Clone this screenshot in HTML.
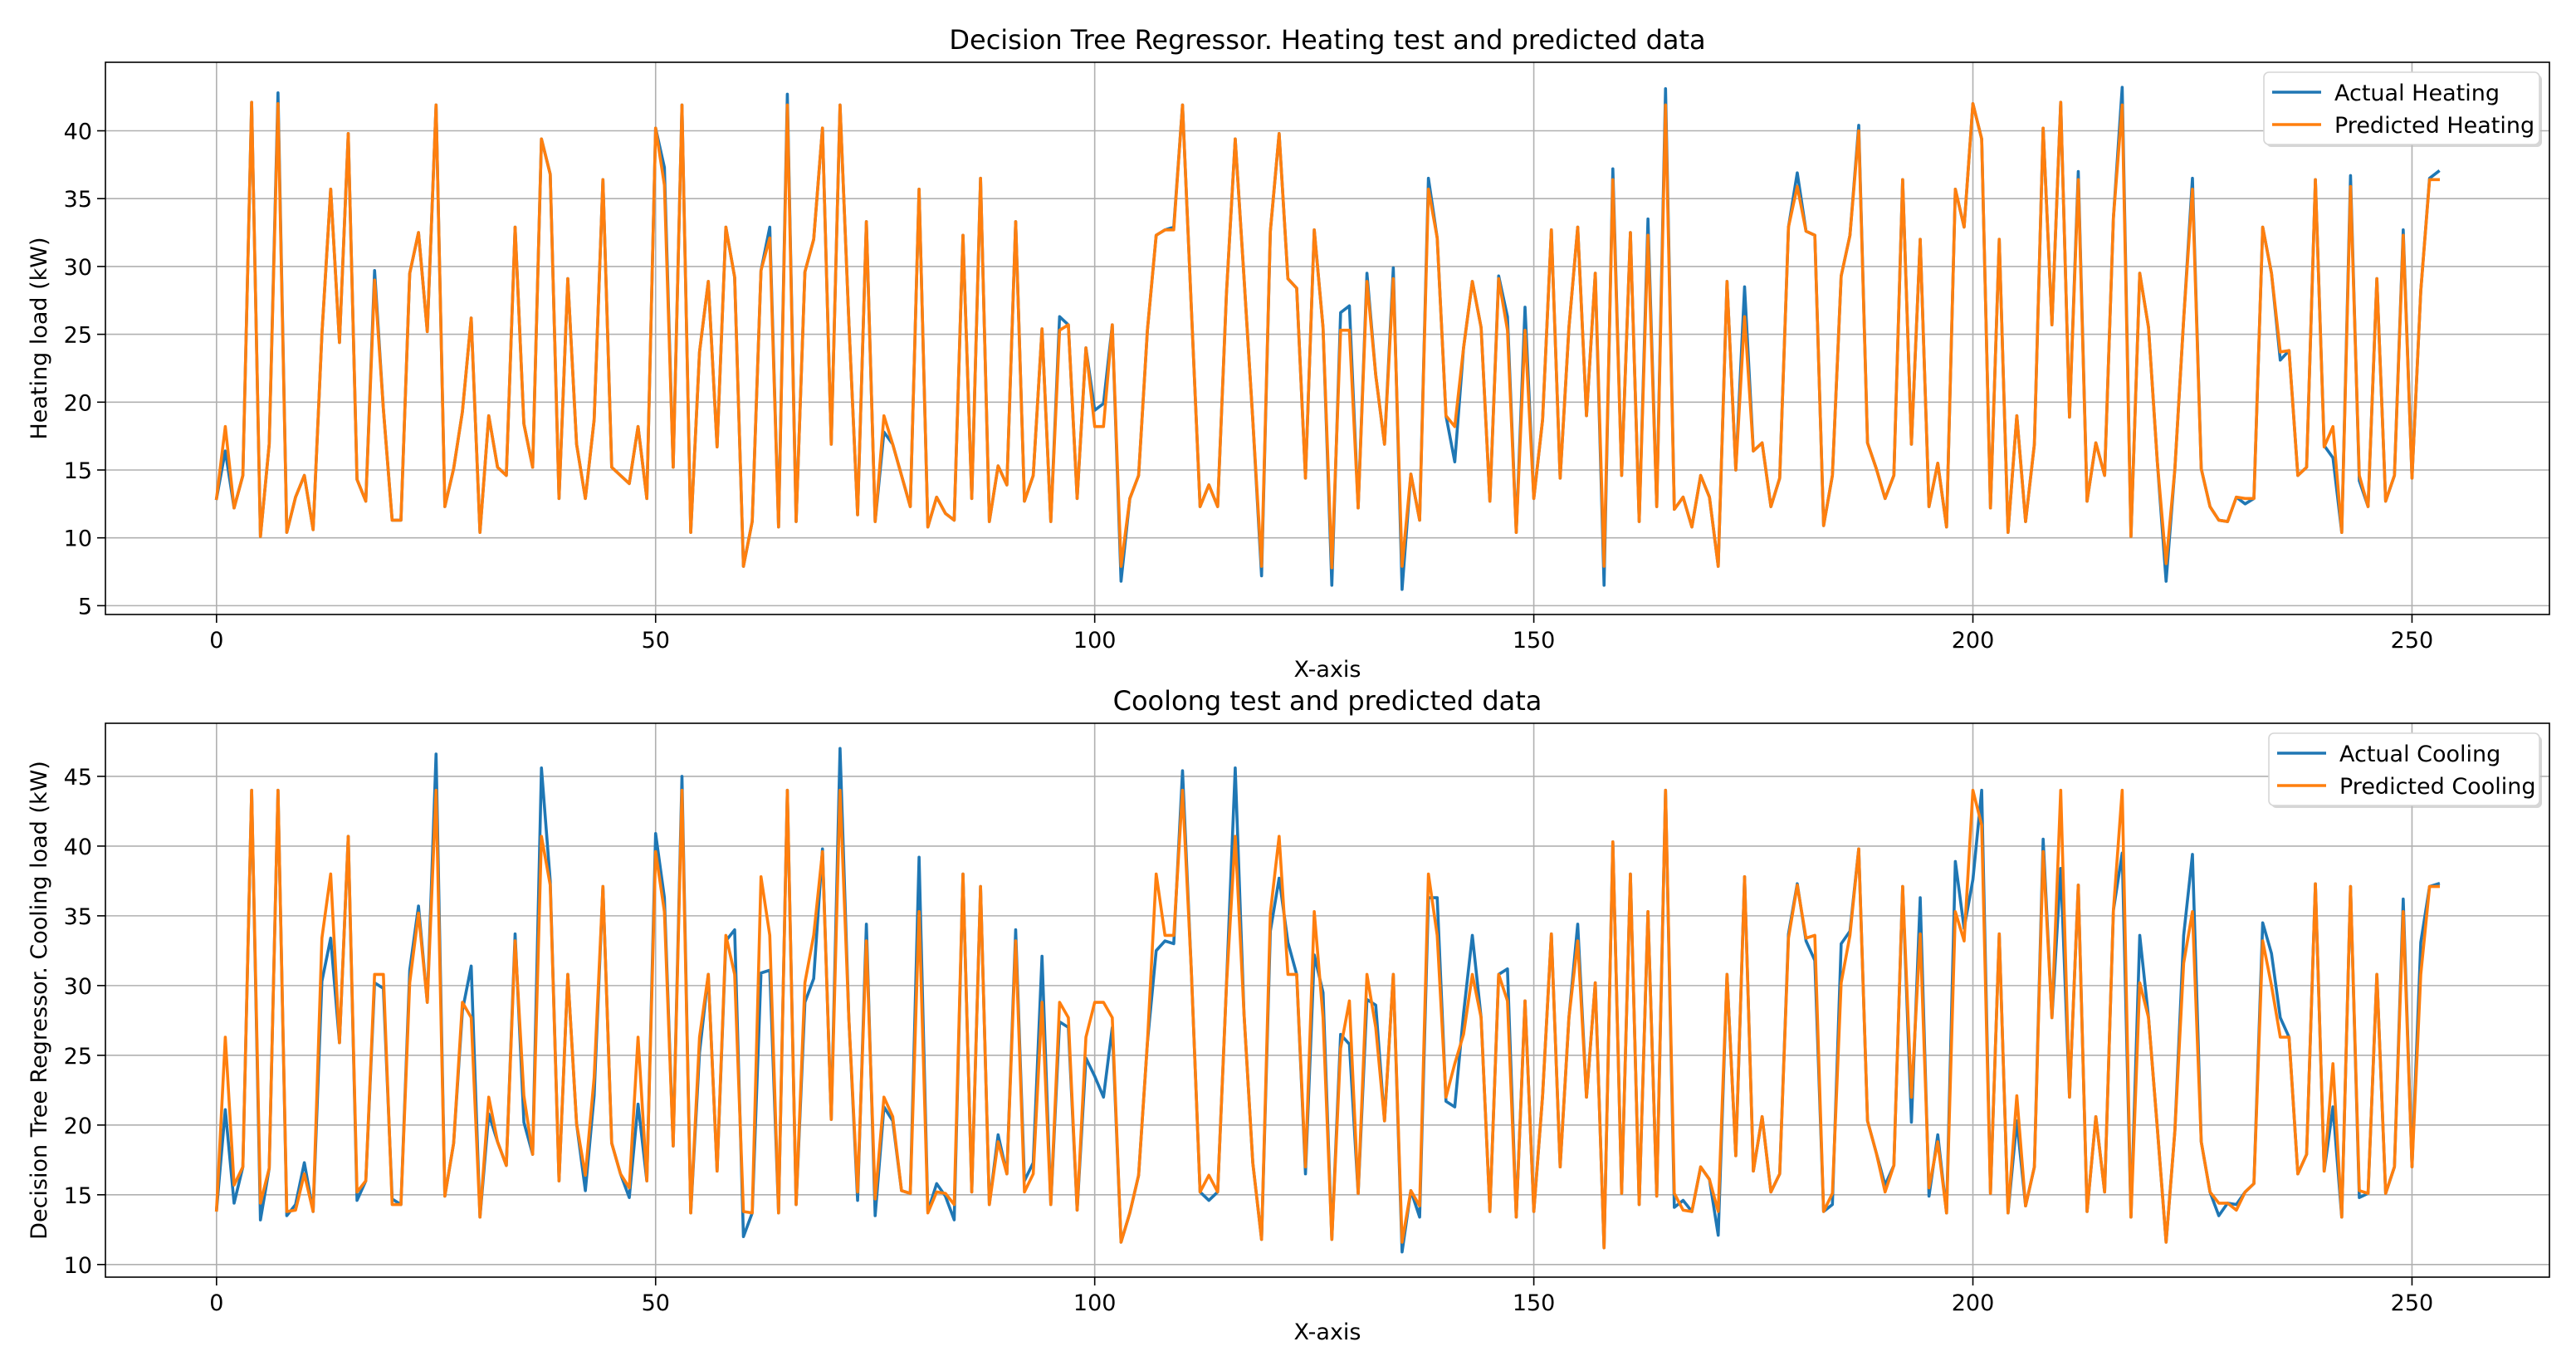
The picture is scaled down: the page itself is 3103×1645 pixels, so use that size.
<!DOCTYPE html>
<html><head><meta charset="utf-8">
<style>
html,body{margin:0;padding:0;background:#fff;}
svg{display:block;font-family:"DejaVu Sans","Liberation Sans",sans-serif;}
</style></head>
<body>
<svg id="fig" width="3103" height="1645" viewBox="0 0 3103 1645" xmlns="http://www.w3.org/2000/svg">
<rect width="3103" height="1645" fill="#fff"/>
</svg>
<script>
const xTicks = [0, 50, 100, 150, 200, 250];
const heatYTicks = [5, 10, 15, 20, 25, 30, 35, 40];
const coolYTicks = [10, 15, 20, 25, 30, 35, 40, 45];
const actualHeating = [12.9,16.4,12.2,14.6,42.1,10.1,16.9,42.8,10.4,13,14.6,10.6,25,35.7,24.4,39.8,14.3,12.7,29.7,19.5,11.3,11.3,29.5,32.5,25.2,41.9,12.3,15.1,19.3,26.2,10.4,19,15.2,14.6,32.9,18.4,15.2,39.4,36.8,12.9,29.1,16.9,12.9,18.7,36.4,15.2,14.6,14,18.2,12.9,40.2,37.3,15.2,41.9,10.4,23.7,28.9,16.7,32.9,29.2,7.9,11.2,29.7,32.9,10.8,42.7,11.2,29.6,32,40.2,16.9,41.9,26,11.7,33.3,11.2,17.8,16.9,14.6,12.3,35.7,10.8,13,11.8,11.3,32.3,12.9,36.5,11.2,15.3,13.9,33.3,12.7,14.6,25.4,11.2,26.3,25.7,12.9,24,19.4,19.9,25.7,6.8,12.9,14.6,25.3,32.3,32.7,32.9,41.9,27,12.3,13.9,12.3,28,39.4,29.2,18.7,7.2,32.6,39.8,29.1,28.4,14.4,32.7,25.5,6.5,26.6,27.1,12.2,29.5,22,16.9,29.9,6.2,14.7,11.3,36.5,32.1,19,15.6,24,28.9,25.5,12.7,29.3,26.3,10.4,27,12.9,18.7,32.7,14.4,25.5,32.9,19,29.5,6.5,37.2,14.6,32.5,11.2,33.5,12.3,43.1,12.1,13,10.8,14.6,13,7.9,28.9,15,28.5,16.4,17,12.3,14.4,32.9,36.9,32.6,32.3,10.9,14.6,29.3,32.3,40.4,17,15.1,12.9,14.6,36.4,16.9,32,12.3,15.5,10.8,35.7,32.9,42,39.4,12.2,32,10.4,19,11.2,16.9,40.2,25.7,42.1,18.9,37,12.7,17,14.6,33.6,43.2,10.1,29.5,25.5,15.6,6.8,15.1,26.1,36.5,15.1,12.3,11.3,11.2,13,12.5,12.9,32.9,29.5,23.1,23.8,14.6,15.2,36.4,16.8,15.9,10.4,36.7,14.2,12.3,29.1,12.7,14.6,32.7,14.4,28.2,36.5,37];
const predictedHeating = [12.9,18.2,12.2,14.6,42.1,10.1,16.9,42,10.4,13,14.6,10.6,25,35.7,24.4,39.8,14.3,12.7,29,19.5,11.3,11.3,29.5,32.5,25.2,41.9,12.3,15.1,19.3,26.2,10.4,19,15.2,14.6,32.9,18.4,15.2,39.4,36.8,12.9,29.1,16.9,12.9,18.7,36.4,15.2,14.6,14,18.2,12.9,40.2,36,15.2,41.9,10.4,23.7,28.9,16.7,32.9,29.2,7.9,11.2,29.7,32.1,10.8,41.9,11.2,29.6,32,40.2,16.9,41.9,26,11.7,33.3,11.2,19,16.9,14.6,12.3,35.7,10.8,13,11.8,11.3,32.3,12.9,36.5,11.2,15.3,13.9,33.3,12.7,14.6,25.4,11.2,25.3,25.7,12.9,24,18.2,18.2,25.7,7.9,12.9,14.6,25.3,32.3,32.7,32.7,41.9,27,12.3,13.9,12.3,28,39.4,29.2,18.7,7.9,32.6,39.8,29.1,28.4,14.4,32.7,25.5,7.8,25.3,25.3,12.2,28.9,22,16.9,29.1,7.9,14.7,11.3,35.7,32.1,19,18.2,24,28.9,25.5,12.7,29.1,25.3,10.4,25.3,12.9,18.7,32.7,14.4,25.5,32.9,19,29.5,7.9,36.4,14.6,32.5,11.2,32.3,12.3,41.9,12.1,13,10.8,14.6,13,7.9,28.9,15,26.3,16.4,17,12.3,14.4,32.9,35.9,32.6,32.3,10.9,14.6,29.3,32.3,40,17,15.1,12.9,14.6,36.4,16.9,32,12.3,15.5,10.8,35.7,32.9,42,39.4,12.2,32,10.4,19,11.2,16.9,40.2,25.7,42.1,18.9,36.4,12.7,17,14.6,33.6,41.9,10.1,29.5,25.5,15.6,8.1,15.1,26.1,35.7,15.1,12.3,11.3,11.2,13,12.9,12.9,32.9,29.5,23.7,23.8,14.6,15.2,36.4,16.7,18.2,10.4,35.9,14.6,12.3,29.1,12.7,14.6,32.3,14.4,28.2,36.4,36.4];
const actualCooling = [13.9,21.1,14.4,17,44,13.2,16.9,44,13.5,14.3,17.3,13.8,30.3,33.4,25.9,40.7,14.6,16,30.2,29.8,14.7,14.3,31.1,35.7,28.8,46.6,14.9,18.7,28.2,31.4,13.4,20.8,18.8,17.1,33.7,20.2,17.9,45.6,37.5,16,30.8,20.1,15.3,22.1,37.1,18.7,16.5,14.8,21.5,16,40.9,36.3,18.5,45,13.7,25.2,30.8,16.7,33.2,34,12,13.7,30.9,31.1,13.7,44,14.3,28.8,30.5,39.8,20.4,47,27.7,14.6,34.4,13.5,21.3,20.3,15.3,15.1,39.2,13.8,15.8,14.9,13.2,38,15.2,37.1,14.3,19.3,16.5,34,16,17.3,32.1,14.3,27.4,27,13.9,24.8,23.5,22,27,11.6,13.7,16.4,25.9,32.5,33.2,33,45.4,31.1,15.2,14.6,15.2,30,45.6,28,17.3,11.8,33.9,37.7,33.1,30.8,16.5,32.2,29.5,11.8,26.5,25.8,15.1,29,28.6,20.3,30.8,10.9,15.3,13.4,36.3,36.3,21.7,21.3,28,33.6,27.7,13.8,30.8,31.2,13.4,28.9,13.8,22.1,33.7,17,27.7,34.4,22,30.2,11.2,40.3,15.1,38,14.3,35.3,14.9,44,14.1,14.6,13.8,17,16.1,12.1,30.8,17.8,37.8,16.7,20.6,15.2,16.5,33.7,37.3,33.2,31.8,13.8,14.3,33,33.9,39.8,20.3,18,15.7,17.1,37.1,20.2,36.3,14.9,19.3,13.7,38.9,34.1,37.6,44,15.1,33.7,13.7,20.3,14.2,17,40.5,27.7,38.4,22,37.2,13.8,20.6,15.2,35.4,39.5,13.4,33.6,27.7,19.8,11.6,19.6,33.6,39.4,18.8,15.2,13.5,14.4,14.3,15.2,15.8,34.5,32.3,27.7,26.3,16.5,17.9,37.3,16.7,21.3,13.4,37.1,14.8,15.1,30.8,15.1,17,36.2,17,33.1,37.1,37.3];
const predictedCooling = [13.9,26.3,15.7,17,44,14.4,16.9,44,13.8,13.9,16.5,13.8,33.4,38,25.9,40.7,15.2,16,30.8,30.8,14.3,14.3,30.2,35.2,28.8,44,14.9,18.7,28.8,27.7,13.4,22,18.8,17.1,33.2,22.1,17.9,40.7,37.2,16,30.8,20.1,16.4,23.4,37.1,18.7,16.5,15.5,26.3,16,39.6,35.3,18.5,44,13.7,26.3,30.8,16.7,33.6,30.8,13.8,13.7,37.8,33.6,13.7,44,14.3,30.2,33.6,39.6,20.4,44,27.7,15.2,33.2,14.7,22,20.6,15.3,15.1,35.3,13.7,15.2,15.1,14.3,38,15.2,37.1,14.3,18.8,16.5,33.2,15.2,16.5,28.8,14.3,28.8,27.7,13.9,26.3,28.8,28.8,27.7,11.6,13.7,16.4,25.9,38,33.6,33.6,44,31.1,15.2,16.4,15.2,30,40.7,28,17.3,11.8,35.2,40.7,30.8,30.8,17,35.3,27.7,11.8,25.5,28.9,15.1,30.8,27,20.3,30.8,11.6,15.3,14.2,38,33.6,22,24.4,26.5,30.8,27.7,13.8,30.8,28.9,13.4,28.9,13.8,22.1,33.7,17,27.7,33.2,22,30.2,11.2,40.3,15.1,38,14.3,35.3,14.9,44,15.1,13.9,13.8,17,16.1,13.8,30.8,17.8,37.8,16.7,20.6,15.2,16.5,33.4,37.2,33.4,33.6,13.8,15.1,30.2,33.6,39.8,20.3,18,15.2,17.1,37.1,22,33.7,15.5,18.8,13.7,35.3,33.2,44,41.5,15.1,33.7,13.7,22.1,14.2,17,39.6,27.7,44,22,37.2,13.8,20.6,15.2,35.4,44,13.4,30.2,27.7,19.8,11.6,19.6,31.6,35.3,18.8,15.2,14.4,14.4,13.9,15.2,15.8,33.2,30,26.3,26.3,16.5,17.9,37.3,16.7,24.4,13.4,37.1,15.3,15.1,30.8,15.1,17,35.3,17,30.8,37.1,37.1];

const NS = 'http://www.w3.org/2000/svg';
const svg = document.getElementById('fig');
const FONT = '"DejaVu Sans","Liberation Sans",sans-serif';

function mk(tag, attrs, parent) {
  const e = document.createElementNS(NS, tag);
  for (const k in attrs) e.setAttribute(k, attrs[k]);
  (parent || svg).appendChild(e);
  return e;
}

function drawPanel(cfg) {
  const L = 127, R = 3071, T = cfg.top, B = cfg.bottom;
  const n = cfg.a.length;
  const xmin = -0.05 * (n - 1), xmax = (n - 1) * 1.05;
  const all = cfg.a.concat(cfg.p);
  const dmin = Math.min.apply(null, all), dmax = Math.max.apply(null, all);
  const ymin = dmin - 0.05 * (dmax - dmin), ymax = dmax + 0.05 * (dmax - dmin);
  const xs = v => L + (v - xmin) / (xmax - xmin) * (R - L);
  const ys = v => B - (v - ymin) / (ymax - ymin) * (B - T);

  const g = mk('g', {});
  
  

  const grid = mk('g', {stroke: '#b0b0b0', 'stroke-width': 1.6}, g);
  
  
  xTicks.forEach(t => {
    const x = xs(t);
    const l = mk('line', {x1: x, x2: x, y1: T, y2: B}, grid);
    
    
  });
  cfg.yt.forEach(t => {
    const y = ys(t);
    const l = mk('line', {x1: L, x2: R, y1: y, y2: y}, grid);
    
    
  });

  [[cfg.a, '#1f77b4', 'actual-line'], [cfg.p, '#ff7f0e', 'predicted-line']].forEach(s => {
    const d = s[0].map((v, i) => (i ? 'L' : 'M') + xs(i).toFixed(2) + ' ' + ys(v).toFixed(2)).join(' ');
    const path = mk('path', {d: d, fill: 'none', stroke: s[1], 'stroke-width': 3.6, 'stroke-linejoin': 'round', 'stroke-linecap': 'square'}, g);
    
    
  });

  const frame = mk('rect', {x: L, y: T, width: R - L, height: B - T, fill: 'none', stroke: '#000', 'stroke-width': 1.6}, g);
  
  

  xTicks.forEach(t => {
    const x = xs(t);
    const tk = mk('line', {x1: x, x2: x, y1: B, y2: B + 10, stroke: '#000', 'stroke-width': 1.6}, g);
    
    
    const tx = mk('text', {x: x, y: B + 40, 'text-anchor': 'middle', 'font-size': 27, fill: '#000', 'font-family': FONT}, g);
    
    
    tx.textContent = t;
  });
  cfg.yt.forEach(t => {
    const y = ys(t);
    const tk = mk('line', {x1: L - 10, x2: L, y1: y, y2: y, stroke: '#000', 'stroke-width': 1.6}, g);
    
    
    const tx = mk('text', {x: L - 16, y: y + 10, 'text-anchor': 'end', 'font-size': 27, fill: '#000', 'font-family': FONT}, g);
    
    
    tx.textContent = t;
  });

  const title = mk('text', {x: (L + R) / 2, y: T - 16, 'text-anchor': 'middle', 'font-size': 32, fill: '#000', 'font-family': FONT}, g);
  
  
  title.textContent = cfg.title;

  const xl = mk('text', {x: (L + R) / 2, y: B + 75, 'text-anchor': 'middle', 'font-size': 27, fill: '#000', 'font-family': FONT}, g);
  
  
  xl.textContent = 'X-axis';

  const cy = (T + B) / 2;
  const yl = mk('text', {x: 0, y: 0, transform: 'translate(56 ' + cy + ') rotate(-90)', 'text-anchor': 'middle', 'font-size': 27, fill: '#000', 'font-family': FONT}, g);
  
  
  yl.textContent = cfg.ylabel;

  // legend
  const lx = cfg.legX, ly = T + 12, lw = 3059 - cfg.legX, lh = 87;
  const lg = mk('g', {}, g);
  
  
  const sh = mk('rect', {x: lx + 3, y: ly + 3, width: lw, height: lh, rx: 6, fill: '#bbb', opacity: 0.6}, lg);
  
  
  const box = mk('rect', {x: lx, y: ly, width: lw, height: lh, rx: 6, fill: '#fff', stroke: '#d6d6d6', 'stroke-width': 1.6}, lg);
  
  
  [[cfg.labels[0], '#1f77b4', 24], [cfg.labels[1], '#ff7f0e', 63]].forEach(e => {
    const ent = mk('g', {}, lg);
    
    
    mk('line', {x1: lx + 10, x2: lx + 69, y1: ly + e[2], y2: ly + e[2], stroke: e[1], 'stroke-width': 3.6}, ent);
    const t = mk('text', {x: lx + 85, y: ly + e[2] + 10, 'font-size': 27, fill: '#000', 'font-family': FONT}, ent);
    t.textContent = e[0];
  });
}

drawPanel({name: 'heating-panel', top: 75, bottom: 740, a: actualHeating, p: predictedHeating, yt: heatYTicks,
  title: 'Decision Tree Regressor. Heating test and predicted data', ylabel: 'Heating load (kW)',
  labels: ['Actual Heating', 'Predicted Heating'], legX: 2727});
drawPanel({name: 'cooling-panel', top: 871, bottom: 1538, a: actualCooling, p: predictedCooling, yt: coolYTicks,
  title: 'Coolong test and predicted data', ylabel: 'Decision Tree Regressor. Cooling load (kW)',
  labels: ['Actual Cooling', 'Predicted Cooling'], legX: 2733});
</script>
</body></html>
